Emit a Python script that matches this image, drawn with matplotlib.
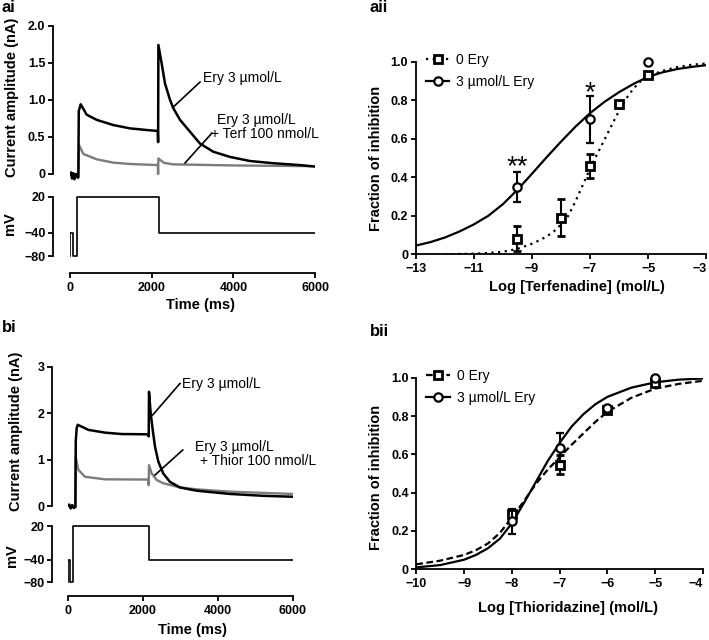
import matplotlib
matplotlib.use("Agg")
import matplotlib.pyplot as plt
from matplotlib.lines import Line2D

# --- voltage protocol (mV) ---
volt_v = [-80, -40, -40, -80, -80, 20, 20, -40, -40]
volt_t_a = [0, 0, 70, 70, 180, 180, 2170, 2170, 6000]
volt_t_b = [0, 0, 60, 60, 150, 150, 2160, 2160, 6000]

# --- panel ai currents (nA) ---
ery_a_t = [0, 30, 50, 80, 110, 150, 195, 204, 215, 262, 408, 653, 1061, 1469, 1878, 2150,
           2158, 2165, 2245, 2327, 2449, 2531, 2694, 2939, 3184, 3510, 3919, 4408, 4980, 5633, 6000]
ery_a_i = [0.0, 0.02, -0.06, 0.01, -0.07, 0.0, -0.05, -0.04, 0.85, 0.94, 0.80, 0.73, 0.66, 0.615, 0.593, 0.58,
           0.43, 1.74, 1.49, 1.22, 1.00, 0.886, 0.73, 0.57, 0.41, 0.30, 0.23, 0.175, 0.145, 0.12, 0.10]
terf_a_t = [0, 30, 50, 80, 110, 150, 195, 204, 220, 327, 653, 1061, 1469, 2150, 2158, 2165,
            2300, 2531, 4000, 6000]
terf_a_i = [0.0, 0.02, -0.06, 0.01, -0.07, 0.0, -0.05, -0.04, 0.39, 0.27, 0.198, 0.153, 0.135, 0.12, 0.0, 0.21,
            0.15, 0.13, 0.115, 0.105]

# --- panel bi currents (nA) ---
ery_b_t = [0, 40, 80, 120, 160, 205, 215, 240, 267, 550, 995, 1440, 2061, 2150, 2160, 2168,
           2213, 2267, 2328, 2417, 2549, 2728, 2995, 3440, 4328, 5216, 6000]
ery_b_i = [0.0, 0.03, -0.05, 0.02, -0.04, -0.02, 1.4, 1.68, 1.75, 1.64, 1.58, 1.55, 1.545, 1.54, 1.5, 2.46,
           2.0, 1.64, 1.28, 0.955, 0.70, 0.52, 0.40, 0.33, 0.26, 0.22, 0.20]
thior_b_t = [0, 40, 80, 120, 160, 205, 213, 284, 461, 995, 2150, 2160, 2168, 2240, 2373, 2549,
             2995, 3440, 4328, 6000]
thior_b_i = [0.0, 0.03, -0.05, 0.02, -0.04, -0.02, 1.06, 0.78, 0.63, 0.575, 0.57, 0.45, 0.88, 0.70, 0.56, 0.49,
             0.40, 0.36, 0.31, 0.26]

# --- panel aii: terfenadine concentration-response ---
terf_x0 = [-9.5, -8, -7, -6, -5]
terf_y0 = [0.08, 0.19, 0.46, 0.78, 0.93]
terf_e0 = [0.065, 0.095, 0.063, 0.0, 0.0]
terf_x1 = [-9.5, -7, -5]
terf_y1 = [0.35, 0.70, 1.0]
terf_e1 = [0.077, 0.12, 0.0]
terf_fit_x1 = [-13, -12.5, -12, -11.5, -11, -10.5, -10, -9.5, -9, -8.5, -8, -7.5, -7,
               -6.5, -6, -5.5, -5, -4.5, -4, -3.5, -3]
terf_fit_y1 = [0.045, 0.063, 0.087, 0.118, 0.155, 0.2, 0.26, 0.335, 0.418, 0.503, 0.585, 0.663, 0.733,
               0.792, 0.842, 0.885, 0.922, 0.945, 0.962, 0.973, 0.982]
terf_fit_x0 = [-12, -11, -10.5, -10, -9.5, -9, -8.75, -8.5, -8.25, -8, -7.75, -7.5, -7.25, -7,
               -6.75, -6.5, -6.25, -6, -5.75, -5.5, -5.25, -5, -4.5, -4, -3.5, -3]
terf_fit_y0 = [0.0, 0.003, 0.007, 0.013, 0.028, 0.055, 0.072, 0.092, 0.118, 0.155, 0.2, 0.275, 0.36, 0.446,
               0.522, 0.596, 0.672, 0.745, 0.81, 0.862, 0.9, 0.925, 0.953, 0.972, 0.984, 0.991]

# --- panel bii: thioridazine concentration-response ---
thio_x = [-8, -7, -6, -5]
thio_y0 = [0.29, 0.545, 0.83, 0.97]
thio_e0 = [0.02, 0.05, 0.015, 0.01]
thio_y1 = [0.25, 0.635, 0.84, 1.0]
thio_e1 = [0.065, 0.075, 0.01, 0.0]
thio_fit_x = [-10, -9.5, -9, -8.75, -8.5, -8.25, -8, -7.75, -7.5, -7.25, -7, -6.75, -6.5, -6.25, -6,
              -5.5, -5, -4.5, -4]
thio_fit_y1 = [0.01, 0.022, 0.05, 0.075, 0.11, 0.16, 0.24, 0.345, 0.455, 0.565, 0.66, 0.745, 0.81, 0.862, 0.9,
               0.948, 0.976, 0.99, 0.996]
thio_fit_y0 = [0.026, 0.045, 0.075, 0.1, 0.135, 0.19, 0.27, 0.355, 0.445, 0.52, 0.585, 0.65, 0.71, 0.77, 0.822,
               0.895, 0.943, 0.968, 0.984]

plt.rcParams['font.family'] = ['Liberation Sans', 'DejaVu Sans']
plt.rcParams['font.weight'] = 'bold'
plt.rcParams['axes.linewidth'] = 1.3

W, H = 709, 640
fig = plt.figure(figsize=(W / 100, H / 100), dpi=100)
GREY = '#7c7c7c'


def px_axes(x0, y0, x1, y1):
    return fig.add_axes([x0 / W, 1 - y1 / H, (x1 - x0) / W, (y1 - y0) / H])


def ftext(x, y, s, **kw):
    fig.text(x / W, 1 - y / H, s, **kw)


def style(ax, left_out=0, bottom_out=0, show_x=True):
    for s in ['top', 'right']:
        ax.spines[s].set_visible(False)
    ax.spines['left'].set_position(('outward', left_out))
    ax.spines['bottom'].set_position(('outward', bottom_out))
    ax.tick_params(direction='out', length=3.5, width=1.3, labelsize=9, pad=2)
    if not show_x:
        ax.spines['bottom'].set_visible(False)
        ax.set_xticks([])
    ax.patch.set_alpha(0)


def trace_panel(box_i, box_v, ylim_i, yticks_i, ylabels_i, grey_t, grey_i, blk_t, blk_i,
                vt, left_out, bottom_out):
    ax_i = px_axes(*box_i)
    ax_i.plot(grey_t, grey_i, color=GREY, lw=1.7)
    ax_i.plot(blk_t, blk_i, color='black', lw=1.8)
    ax_i.set_xlim(0, 6000)
    ax_i.set_ylim(*ylim_i)
    style(ax_i, left_out=left_out, show_x=False)
    ax_i.spines['left'].set_bounds(0, yticks_i[-1])
    ax_i.set_yticks(yticks_i)
    ax_i.set_yticklabels(ylabels_i)

    ax_v = px_axes(*box_v)
    ax_v.plot(vt, volt_v, color='black', lw=1.2)
    ax_v.set_xlim(0, 6000)
    ax_v.set_ylim(-84, 24)
    style(ax_v, left_out=left_out, bottom_out=bottom_out)
    ax_v.spines['left'].set_bounds(-80, 20)
    ax_v.spines['bottom'].set_bounds(0, 6000)
    ax_v.set_yticks([20, -40, -80])
    ax_v.set_yticklabels(['20', '\u221240', '\u221280'])
    ax_v.set_xticks([0, 2000, 4000, 6000])
    ax_v.tick_params(axis='x', pad=3)
    return ax_i, ax_v


# ---------- ai ----------
ax_ai, ax_av = trace_panel((70, 25.7, 315, 181.4), (70, 194.6, 315, 258.7), (-0.1, 2.0),
                           [0, 0.5, 1.0, 1.5, 2.0], ['0', '0.5', '1.0', '1.5', '2.0'],
                           terf_a_t, terf_a_i, ery_a_t, ery_a_i, volt_t_a, 12.2, 10.3)
ax_ai.plot([2523, 3184], [0.90, 1.24], color='black', lw=1.2)
ax_ai.plot([2817, 3478], [0.148, 0.553], color='black', lw=1.2)
ax_ai.text(3260, 1.29, 'Ery 3 \u00b5mol/L', fontsize=10, fontweight='normal', va='center', clip_on=False)
ax_ai.text(3593, 0.73, 'Ery 3 \u00b5mol/L', fontsize=10, fontweight='normal', va='center', clip_on=False)
ax_ai.text(3446, 0.54, '+ Terf 100 nmol/L', fontsize=10, fontweight='normal', va='center', clip_on=False)

# ---------- bi ----------
ax_bi, ax_bv = trace_panel((67.7, 366.7, 292.7, 513), (67.7, 523.75, 292.7, 584.55), (-0.15, 3.0),
                           [0, 1, 2, 3], ['0', '1', '2', '3'],
                           thior_b_t, thior_b_i, ery_b_t, ery_b_i, volt_t_b, 11.1, 8.0)
ax_bi.plot([2267, 2995], [1.96, 2.64], color='black', lw=1.2)
ax_bi.plot([2328, 3067], [0.668, 1.206], color='black', lw=1.2)
ax_bi.text(3040, 2.63, 'Ery 3 \u00b5mol/L', fontsize=10, fontweight='normal', va='center', clip_on=False)
ax_bi.text(3395, 1.28, 'Ery 3 \u00b5mol/L', fontsize=10, fontweight='normal', va='center', clip_on=False)
ax_bi.text(3528, 0.97, '+ Thior 100 nmol/L', fontsize=10, fontweight='normal', va='center', clip_on=False)


def dose_panel(box, xlim, xticks, fx0, fy0, fx1, fy1, ls0, dx0, dy0, de0, dx1, dy1, de1):
    ax = px_axes(*box)
    ax.plot(fx0, fy0, color='black', lw=1.6, ls=ls0)
    ax.plot(fx1, fy1, color='black', lw=1.6)
    ax.errorbar(dx0, dy0, yerr=de0, fmt='s', ms=5.5, mfc='white', mec='black', mew=2,
                ecolor='black', elinewidth=1.5, capsize=3, capthick=1.5, clip_on=False, zorder=4)
    ax.errorbar(dx1, dy1, yerr=de1, fmt='o', ms=6, mfc='white', mec='black', mew=1.6,
                ecolor='black', elinewidth=1.5, capsize=3, capthick=1.5, clip_on=False, zorder=5)
    ax.set_xlim(*xlim)
    ax.set_ylim(0, 1)
    style(ax)
    ax.set_xticks(xticks)
    ax.set_xticklabels(['\u2212%d' % abs(v) for v in xticks])
    ax.set_yticks([0, 0.2, 0.4, 0.6, 0.8, 1.0])
    ax.set_yticklabels(['0', '0.2', '0.4', '0.6', '0.8', '1.0'])
    ax.tick_params(axis='x', pad=3)
    ax.get_xticklabels()[-1].set_ha('right')
    h0 = Line2D([], [], color='black', lw=1.6, ls=ls0, marker='s', ms=5.5, mfc='white', mew=2)
    h1 = Line2D([], [], color='black', lw=1.6, marker='o', ms=6, mfc='white', mew=1.6)
    ax.legend([h0, h1], ['0 Ery', '3 \u00b5mol/L Ery'], loc='upper left', bbox_to_anchor=(0.035, 1.045),
              frameon=False, borderpad=0, borderaxespad=0, handlelength=1.7, handletextpad=0.5,
              labelspacing=0.55, prop={'size': 10, 'weight': 'normal'})
    return ax


ax_aii = dose_panel((415.7, 61.7, 706.3, 254.3), (-13, -3), [-13, -11, -9, -7, -5, -3],
                    terf_fit_x0, terf_fit_y0, terf_fit_x1, terf_fit_y1, (0, (1, 2)),
                    terf_x0, terf_y0, terf_e0, terf_x1, terf_y1, terf_e1)
ax_aii.text(-9.5, 0.45, '**', ha='center', va='center', fontsize=20, fontweight='normal')
ax_aii.text(-7, 0.835, '*', ha='center', va='center', fontsize=20, fontweight='normal')

ax_bii = dose_panel((416.3, 377.7, 703, 569.3), (-10, -4), [-10, -9, -8, -7, -6, -5, -4],
                    thio_fit_x, thio_fit_y0, thio_fit_x, thio_fit_y1, (0, (3, 1.6)),
                    thio_x, thio_y0, thio_e0, thio_x, thio_y1, thio_e1)

# ---------- labels ----------
ftext(12, 97, 'Current amplitude (nA)', rotation=90, ha='center', va='center', fontsize=10.5)
ftext(10, 224, 'mV', rotation=90, ha='center', va='center', fontsize=10.5)
ftext(201, 305, 'Time (ms)', ha='center', va='center', fontsize=10.5)
ftext(16, 431, 'Current amplitude (nA)', rotation=90, ha='center', va='center', fontsize=10.5)
ftext(12, 556, 'mV', rotation=90, ha='center', va='center', fontsize=10.5)
ftext(192, 630, 'Time (ms)', ha='center', va='center', fontsize=10.5)
ftext(376.5, 158, 'Fraction of inhibition', rotation=90, ha='center', va='center', fontsize=10.5)
ftext(577, 287.5, 'Log [Terfenadine] (mol/L)', ha='center', va='center', fontsize=10.5)
ftext(376.5, 477, 'Fraction of inhibition', rotation=90, ha='center', va='center', fontsize=10.5)
ftext(568, 608, 'Log [Thioridazine] (mol/L)', ha='center', va='center', fontsize=10.5)

ftext(1, 7, 'ai', ha='left', va='center', fontsize=12)
ftext(370, 8, 'aii', ha='left', va='center', fontsize=12)
ftext(2, 328, 'bi', ha='left', va='center', fontsize=12)
ftext(370, 331, 'bii', ha='left', va='center', fontsize=12)

fig.savefig('out.png', dpi=100)
